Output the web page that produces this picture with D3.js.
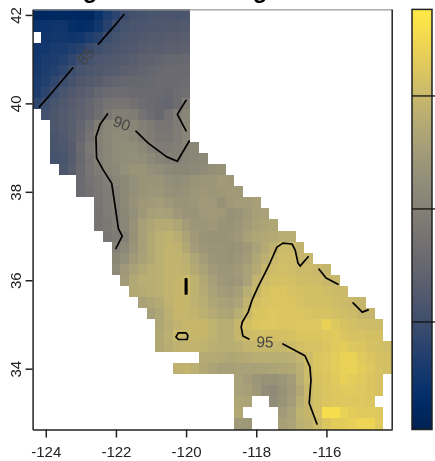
<!DOCTYPE html>
<html>
<head>
<meta charset="utf-8">
<script src="https://cdn.jsdelivr.net/npm/d3@7"></script>
<style>
  html, body { margin: 0; padding: 0; background: #fff; overflow: hidden; }
  svg { display: block; filter: blur(0.45px); }
  text { font-family: "Liberation Sans", Arial, sans-serif; }
  .tick text { font-size: 15px; fill: #222; }
  .tick line, .domain { stroke: #222; stroke-width: 1.5px; }
  .contour { fill: none; stroke: #000; stroke-width: 1.7px; stroke-linejoin: round; stroke-linecap: round; }
  .clabel { font-size: 15.5px; fill: #444; text-anchor: middle; dominant-baseline: central; }
  .cells rect, .bar rect.step { shape-rendering: crispEdges; }
</style>
</head>
<body>
<script>
const width = 435,
  height = 461;

// grid is 0.25 degree, row 0 is the northern row
const lonStart = -124.25;
const latStart = 42;
const cellDeg = 0.25;

// first filled column of each row
const rowFirstCol = [0,0,0,0,0,0,0,0,0,1,2,2,2,2,3,5,5,7,7,7,8,9,9,9,10,11,12,13,14,14,14,19,16,23,23,23,23,23];

// temperature per cell (null = no data)
const tempRows = [
  [81.0,81.0,81.2,81.1,81.2,81.0,81.0,82.0,83.2,84.0,84.9,85.3,85.5,85.6,85.6,85.7,85.6,85.8],
  [82.0,82.2,82.4,82.4,81.8,81.6,81.8,82.6,83.8,85.0,85.4,85.6,85.7,85.8,85.9,86.0,86.0,86.2],
  [null,82.4,82.6,82.6,82.4,82.6,83.2,83.8,85.0,85.4,85.6,85.8,86.0,86.2,86.2,86.4,86.4,86.6],
  [82.4,82.6,83.0,83.0,83.4,83.8,84.6,85.1,85.5,85.7,85.9,86.1,86.4,86.6,86.6,86.8,86.8,87.0],
  [82.6,83.0,83.2,83.6,84.2,85.0,85.4,85.7,85.9,86.1,86.3,86.6,87.0,87.0,87.2,87.4,87.5,87.6],
  [82.8,83.2,83.6,84.2,85.0,85.5,85.8,86.0,86.3,86.5,86.8,87.0,87.2,87.4,87.6,87.8,87.8,87.8],
  [83.0,83.5,84.2,85.0,85.5,85.9,86.2,86.5,87.0,87.2,87.4,87.5,87.5,87.6,87.8,87.8,87.8,88.0],
  [83.2,84.0,85.0,85.6,86.0,86.4,86.8,87.4,87.8,88.0,88.0,87.8,87.8,87.8,87.8,87.6,88.0,88.2],
  [84.0,85.0,85.6,86.0,86.4,86.8,87.4,88.0,88.6,88.8,88.8,88.4,88.0,87.8,87.6,87.4,88.0,89.8],
  [85.4,85.8,86.2,86.6,87.0,87.4,88.2,89.2,89.8,89.8,89.5,88.6,88.0,87.5,88.6,89.7,90.4],
  [85.8,86.2,86.6,87.2,88.2,89.7,90.4,90.8,90.6,90.4,89.9,89.4,88.8,88.8,89.6,90.6],
  [85.6,86.0,86.6,87.4,88.6,90.0,90.6,91.0,91.0,90.6,90.0,89.6,89.2,89.0,89.6,90.3],
  [85.6,85.8,86.4,87.8,89.2,90.0,90.4,91.0,91.2,91.2,90.8,90.1,89.6,89.5,89.8,90.2,90.6],
  [85.4,85.6,86.4,87.6,88.8,90.0,90.6,91.0,91.2,91.4,91.2,90.8,90.2,90.0,89.9,90.3,90.6,90.8],
  [85.8,86.6,87.8,88.8,89.5,90.4,90.8,91.4,91.8,91.8,91.4,91.2,90.8,90.6,90.6,90.8,91.0,91.4,91.6],
  [87.8,88.6,89.2,89.8,90.4,90.8,91.4,91.8,91.8,91.8,91.4,91.2,91.4,91.8,92.0,92.0,92.4,92.2],
  [87.8,88.4,89.0,89.5,90.1,90.8,91.4,91.8,92.0,92.0,91.6,91.4,91.6,92.0,92.2,92.0,92.2,92.4,92.4],
  [89.0,89.5,90.0,90.8,91.6,92.2,92.4,92.6,92.2,91.8,91.8,92.0,92.4,92.2,91.6,92.2,92.6,92.6,92.8],
  [88.8,89.4,89.9,90.6,91.4,92.2,92.8,93.0,92.8,92.2,91.8,91.8,92.2,92.4,92.2,91.6,91.8,92.4,92.8,93.0],
  [88.8,89.2,89.8,90.4,91.6,92.8,93.4,93.8,93.8,93.4,92.6,92.0,92.0,92.2,91.8,91.6,92.0,92.6,93.0,93.2,93.4],
  [89.0,89.4,90.1,91.6,92.8,93.6,94.2,94.4,94.0,93.2,92.4,91.8,91.6,91.6,91.8,92.2,93.0,93.4,93.6,93.8,94.0,94.0],
  [90.0,90.8,91.8,92.8,93.6,94.2,94.6,94.4,93.6,92.6,92.0,91.8,91.8,91.6,91.8,92.2,93.0,93.8,94.5,95.2,95.1,94.6],
  [90.6,91.4,92.4,93.0,93.6,94.2,94.6,94.6,94.2,93.4,92.6,92.0,91.8,91.6,92.0,92.6,93.4,94.2,95.0,95.4,95.3,94.8,94.9],
  [91.0,92.2,93.0,93.6,94.0,94.2,94.6,94.6,94.4,93.8,93.0,92.4,92.0,92.0,92.4,93.0,93.8,94.9,95.3,95.5,95.4,95.1,95.2,95.0,94.8],
  [92.6,93.6,94.0,94.0,94.2,94.6,94.8,95.1,94.4,93.6,92.8,92.2,92.0,92.2,93.0,94.6,95.3,95.6,95.7,95.6,95.4,95.4,95.3,95.0,94.8],
  [93.6,93.8,94.0,94.2,94.6,94.8,95.1,94.4,93.8,93.0,92.6,92.4,92.8,94.0,95.0,95.8,96.0,96.0,95.8,95.7,95.6,95.6,95.4,95.2,95.1],
  [93.0,93.4,93.8,94.4,94.8,94.8,94.4,94.0,93.4,93.0,92.8,93.2,94.6,95.6,95.9,96.0,96.0,96.0,95.8,95.6,95.6,95.6,95.4,95.2,95.0,94.8],
  [92.8,93.4,94.2,94.8,94.8,94.6,94.2,93.8,93.4,93.2,94.0,95.0,95.9,96.0,96.2,96.0,96.0,96.0,95.9,95.8,95.8,95.6,95.4,95.2,94.8,94.8],
  [93.4,94.0,94.6,94.9,94.9,94.8,94.4,94.0,94.0,94.9,95.6,96.0,96.2,96.2,96.0,96.0,96.2,96.2,96.2,96.9,96.2,95.8,95.6,95.4,95.3,95.2],
  [93.6,94.2,95.1,94.9,94.8,94.8,94.4,94.0,94.0,94.8,95.2,95.4,95.6,95.6,95.6,95.8,96.0,96.0,96.0,96.2,96.4,96.0,95.8,95.8,95.6,95.6],
  [93.6,94.0,94.4,94.6,94.6,94.4,94.2,94.0,94.0,94.2,94.6,94.8,94.8,94.9,94.8,95.2,95.6,95.8,95.8,96.0,96.4,96.6,96.2,96.0,95.8,95.6,95.4],
  [93.8,93.8,93.6,93.4,93.6,93.8,94.0,94.0,94.0,94.0,94.2,94.7,95.3,96.0,96.2,96.6,97.0,97.0,96.4,96.0,95.8,95.6],
  [94.4,94.6,94.2,93.6,93.2,92.8,92.8,93.0,93.0,93.0,93.0,93.2,93.4,93.6,94.2,95.2,96.0,96.2,96.6,96.9,97.0,96.6,96.2,95.8,95.6],
  [93.0,92.6,92.0,91.6,91.6,92.0,92.6,94.0,95.2,95.8,96.0,96.4,96.8,96.6,96.4,96.0,95.8],
  [93.0,92.8,92.2,91.2,91.0,91.6,92.4,93.6,95.0,95.6,96.0,96.2,96.4,96.4,96.2,96.0,95.8],
  [93.4,93.2,null,null,91.2,91.8,92.6,94.0,95.0,95.6,96.0,96.2,96.2,96.2,96.2,96.0],
  [93.6,null,null,null,null,92.4,93.0,94.4,94.8,95.6,97.9,97.9,97.0,96.6,96.4,96.4,96.2],
  [92.4,92.2,null,null,null,92.8,93.2,94.2,94.6,95.2,96.0,96.6,96.6,96.8,97.2,97.2,96.4]
];

// contour lines as [lon, lat], the gaps are where the labels sit
const contours85 = [
  [[-124.18,39.92],[-123.88,40.19],[-123.23,40.80]],
  [[-122.50,41.34],[-121.98,41.81],[-121.77,42.01]]
];
const contours90 = [
  [[-122.24,39.76],[-122.45,39.53],[-122.57,39.24],[-122.55,38.76],[-122.36,38.49],[-122.12,38.19],[-122.02,37.66],[-121.93,37.17],[-121.82,37.00],[-122.00,36.72]],
  [[-121.43,39.37],[-121.08,39.10],[-120.55,38.79],[-120.25,38.69],[-119.91,39.15]],
  [[-120.0,39.38],[-120.25,39.75],[-120.0,40.07]]
];
const contours95 = [
  [[-116.52,36.53],[-116.75,36.32],[-116.81,36.39],[-116.89,36.68],[-116.98,36.82],[-117.24,36.84],[-117.41,36.75],[-117.61,36.39],[-117.75,36.16],[-117.95,35.85],[-118.12,35.55],[-118.23,35.28],[-118.40,35.05],[-118.43,34.94],[-118.38,34.74],[-118.21,34.67]],
  [[-117.24,34.56],[-116.61,34.29],[-116.47,34.04],[-116.44,33.74],[-116.49,33.22],[-116.27,32.75]],
  [[-116.21,36.25],[-116.01,36.05],[-115.67,35.91]],
  [[-115.24,35.49],[-114.98,35.28],[-114.81,35.33]],
  [[-120.02,36.03],[-119.98,36.03],[-119.98,35.69],[-120.02,35.69],[-120.02,36.03]],
  [[-120.22,34.81],[-120.0,34.81],[-119.95,34.75],[-119.97,34.66],[-120.22,34.66],[-120.29,34.72],[-120.22,34.81]]
];

const contourLabels = ['85', '90', '95'];
const labelLons = [-122.86, -121.83, -117.75];
const labelLats = [41.07, 39.55, 34.61];
const labelAngles = [-48, 20, 2];

const lonTicks = [-124, -122, -120, -118, -116];
const latTicks = [34, 36, 38, 40, 42];
const barTicks = [85, 90, 95];
const barDomain = [80.24, 98.83];

// only these two letters of the title show, the rest is above the page
const titleBits = ['g', 'g'];
const titleBitX = [90, 260];

const x = d3.scaleLinear().domain([-124.375, -114.125]).range([32.6, 392.2]);
const y = d3.scaleLinear().domain([32.625, 42.125]).range([429.5, 9.4]);
const color = d3.scaleSequential(d3.interpolateCividis).domain(barDomain);
const barY = d3.scaleLinear().domain(barDomain).range([429.5, 9.4]);

const svg = d3
  .select('body')
  .append('svg')
  .attr('width', width)
  .attr('height', height);

svg
  .append('g')
  .selectAll('text')
  .data(titleBits)
  .join('text')
  .attr('x', (d, i) => titleBitX[i])
  .attr('y', -2.5)
  .attr('text-anchor', 'middle')
  .attr('font-weight', 'bold')
  .attr('font-size', 24)
  .text(d => d);

// flatten rows to cells
const cells = [];
tempRows.forEach((row, r) => {
  row.forEach((v, i) => {
    if (v !== null) {
      cells.push({
        lon: lonStart + cellDeg * (rowFirstCol[r] + i),
        lat: latStart - cellDeg * r,
        v: v
      });
    }
  });
});

svg
  .append('g')
  .attr('class', 'cells')
  .selectAll('rect')
  .data(cells)
  .join('rect')
  .attr('x', d => x(d.lon - cellDeg / 2))
  .attr('y', d => y(d.lat + cellDeg / 2))
  .attr('width', d => x(d.lon + cellDeg / 2) - x(d.lon - cellDeg / 2))
  .attr('height', d => y(d.lat - cellDeg / 2) - y(d.lat + cellDeg / 2))
  .attr('fill', d => color(d.v));

const line = d3
  .line()
  .x(d => x(d[0]))
  .y(d => y(d[1]));

svg
  .append('g')
  .selectAll('path')
  .data(contours85.concat(contours90, contours95))
  .join('path')
  .attr('class', 'contour')
  .attr('d', line);

svg
  .append('g')
  .selectAll('text')
  .data(contourLabels)
  .join('text')
  .attr('class', 'clabel')
  .attr('transform', (d, i) => `translate(${x(labelLons[i])},${y(labelLats[i])}) rotate(${labelAngles[i]})`)
  .text(d => d);

// frame
const frame = svg.append('g').attr('fill', 'none');
frame.append('line').attr('x1', 32.6).attr('x2', 392.2).attr('y1', 9.9).attr('y2', 9.9).attr('stroke', '#999').attr('stroke-width', 1.2);
frame.append('line').attr('x1', 392.2).attr('x2', 392.2).attr('y1', 9.4).attr('y2', 429.5).attr('stroke', '#222').attr('stroke-width', 1.5);

svg
  .append('g')
  .attr('transform', 'translate(0,429.5)')
  .call(
    d3.axisBottom(x)
      .tickValues(lonTicks)
      .tickSize(8)
      .tickPadding(9)
      .tickSizeOuter(0)
      .tickFormat(d => (d < 0 ? '-' : '') + Math.abs(d))
  );

svg
  .append('g')
  .attr('transform', 'translate(32.6,0)')
  .call(d3.axisLeft(y).tickValues(latTicks).tickSize(7).tickSizeOuter(0))
  .call(g => g.selectAll('.tick text')
    .attr('x', null)
    .attr('dy', null)
    .attr('text-anchor', 'middle')
    .attr('transform', 'translate(-11.5,0) rotate(-90)'));

// colour bar
const barValues = d3.range(barDomain[0], barDomain[1], 0.05);
const bar = svg.append('g').attr('class', 'bar');
bar
  .selectAll('rect.step')
  .data(barValues)
  .join('rect')
  .attr('class', 'step')
  .attr('x', 412)
  .attr('width', 20)
  .attr('y', d => barY(d + 0.05))
  .attr('height', d => barY(d) - barY(d + 0.05))
  .attr('fill', d => color(d));
bar
  .append('rect')
  .attr('x', 412)
  .attr('y', 9.4)
  .attr('width', 20)
  .attr('height', 420.1)
  .attr('fill', 'none')
  .attr('stroke', '#222')
  .attr('stroke-width', 1.5);
bar
  .selectAll('line')
  .data(barTicks)
  .join('line')
  .attr('x1', 412)
  .attr('x2', 435)
  .attr('y1', d => barY(d))
  .attr('y2', d => barY(d))
  .attr('stroke', '#111')
  .attr('stroke-width', 1.3);
</script>
</body>
</html>
